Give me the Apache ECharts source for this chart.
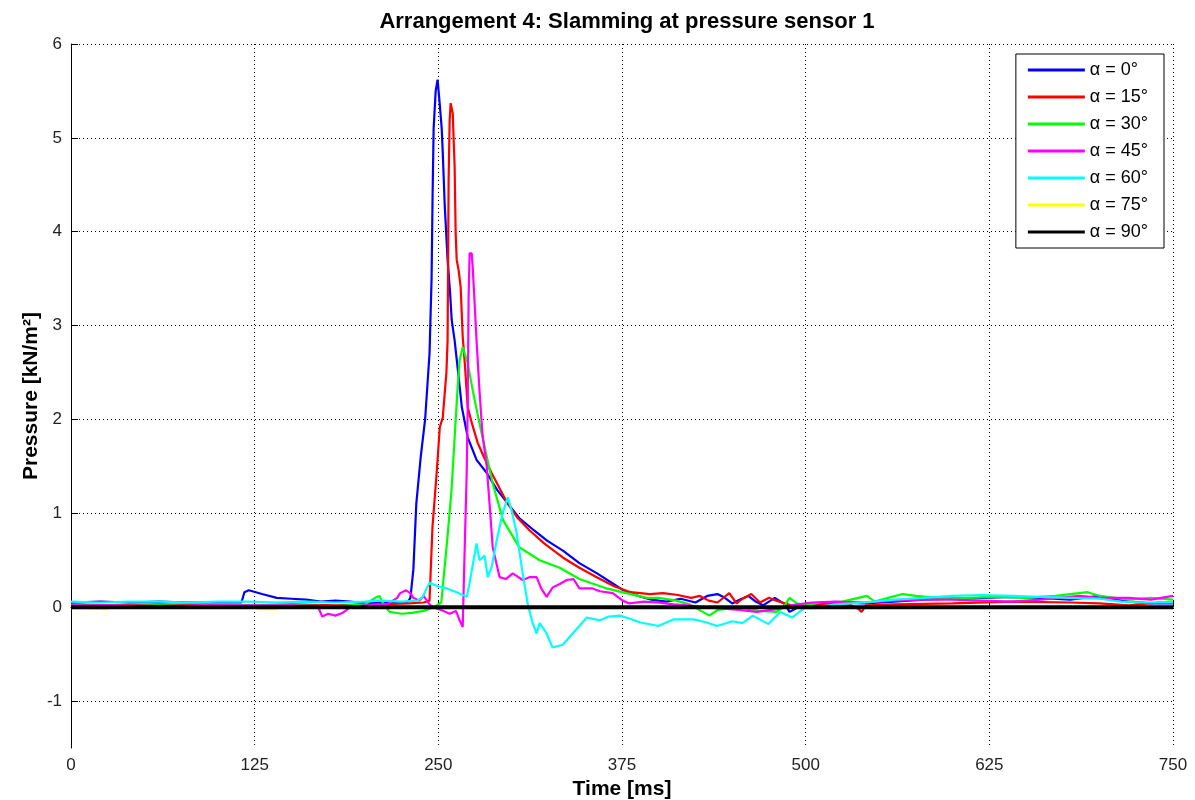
<!DOCTYPE html>
<html>
<head>
<meta charset="utf-8">
<script src="https://cdn.jsdelivr.net/npm/echarts@6/dist/echarts.min.js"></script>
<style>
html, body { margin: 0; padding: 0; background: #fff; }
#cn { width: 1195px; height: 800px; }
</style>
</head>
<body>
<div id="cn"></div>
<script>
'use strict';

// [time ms, pressure kN/m2]
const ALPHA_0 = [[0,0.05],[20,0.06],[40,0.05],[60,0.06],[80,0.05],[100,0.05],[116,0.05],[118,0.16],[121,0.18],[130,0.14],[140,0.1],[150,0.09],[160,0.08],[170,0.06],[180,0.07],[190,0.06],[200,0.04],[210,0.05],[220,0.05],[229,0.05],[231,0.1],[233,0.4],[235,1.1],[238,1.6],[241,2.0],[244,2.7],[245.4,3.5],[246.1,4.4],[246.8,5.1],[248.2,5.5],[249.5,5.62],[251,5.35],[252.3,5.1],[253,4.85],[254.3,4.3],[256.3,3.7],[258,3.35],[259.1,3.06],[261.1,2.84],[263.5,2.5],[266,2.13],[270,1.81],[276,1.57],[283,1.43],[290,1.25],[294,1.17],[305,0.95],[315,0.82],[324,0.71],[335,0.6],[346,0.47],[358,0.36],[369,0.25],[376,0.18],[386,0.12],[395,0.08],[405,0.06],[415,0.09],[425,0.05],[433,0.12],[440,0.14],[445,0.1],[450,0.04],[455,0.08],[461,0.12],[466,0.06],[471,0.02],[479,0.1],[486,0.03],[489,-0.05],[495,0.0],[505,0.04],[520,0.05],[540,0.04],[560,0.06],[580,0.08],[600,0.09],[620,0.1],[640,0.11],[660,0.1],[680,0.08],[700,0.12],[705,0.1],[720,0.06],[735,0.04],[750,0.04]];
const ALPHA_15 = [[0,0.03],[30,0.02],[60,0.03],[90,0.02],[120,0.02],[150,0.03],[180,0.02],[210,0.03],[230,0.04],[240,0.05],[244,0.07],[246,0.85],[249,1.46],[251,1.92],[253,2.02],[255.5,2.5],[256.3,2.84],[257,4.55],[257.7,5.19],[258.4,5.37],[259.8,5.26],[261.1,4.69],[261.8,3.98],[262.5,3.7],[263.8,3.59],[265.2,3.41],[266.6,2.88],[268,2.6],[270,2.13],[273,1.95],[276.8,1.75],[281,1.6],[286.3,1.43],[296.5,1.12],[304,0.95],[312,0.82],[322,0.68],[334.7,0.53],[346,0.42],[357.8,0.32],[370,0.22],[381,0.16],[394,0.14],[403,0.15],[413,0.13],[422,0.1],[428,0.12],[434,0.07],[440,0.05],[448,0.15],[453,0.04],[457,0.09],[463,0.14],[469,0.05],[475,0.1],[480,0.07],[490,0.02],[500,0.03],[515,0.02],[530,0.03],[536,-0.02],[538,-0.05],[541,0.02],[560,0.03],[600,0.04],[640,0.06],[680,0.05],[700,0.04],[720,0.02],[740,0.05],[750,0.05]];
const ALPHA_30 = [[0,0.02],[30,0.01],[60,0.02],[90,0.01],[120,0.02],[150,0.02],[180,0.01],[200,0.03],[207,0.1],[210,0.12],[213,0.02],[217,-0.05],[225,-0.07],[232,-0.06],[240,-0.04],[247,0.0],[252,0.05],[253,0.07],[256,0.71],[259,1.25],[261,1.78],[263,2.31],[264.5,2.63],[266.6,2.77],[270,2.6],[273.4,2.31],[278,1.96],[283,1.6],[287,1.32],[294,0.93],[305,0.64],[319,0.5],[332.6,0.42],[346,0.3],[364.6,0.2],[375,0.16],[392,0.1],[400,0.1],[412,0.07],[421,0.03],[430,-0.05],[434.5,-0.09],[440,-0.03],[450,-0.01],[458,-0.01],[468,-0.04],[480,-0.05],[485,0.0],[489,0.1],[494,0.04],[500,0.02],[510,0.05],[525,0.06],[541.7,0.12],[547,0.06],[556,0.1],[566,0.14],[575,0.12],[590,0.1],[610,0.1],[630,0.11],[650,0.1],[670,0.12],[692,0.16],[700,0.12],[720,0.08],[735,0.1],[750,0.08]];
const ALPHA_45 = [[0,0.02],[30,0.02],[60,0.01],[90,0.02],[120,0.02],[150,0.02],[168,0.01],[171,-0.1],[175,-0.07],[180,-0.09],[185,-0.06],[190,0.0],[200,0.02],[215,0.03],[222,0.1],[224,0.15],[228,0.18],[231,0.15],[233,0.1],[237,0.07],[240,0.12],[243,0.05],[246,0.0],[252,-0.03],[257.7,-0.07],[262,-0.04],[264.5,-0.14],[266.6,-0.21],[267.5,0.36],[269.3,1.43],[270,2.13],[270.6,3.3],[271.3,3.77],[272.7,3.77],[273.4,3.62],[274.7,3.24],[276,2.84],[278,2.31],[280,1.85],[283,1.49],[285,1.07],[287,0.64],[291.7,0.32],[296,0.3],[300.6,0.36],[307.4,0.29],[312,0.32],[316.9,0.32],[320,0.2],[323.7,0.11],[327.8,0.21],[333,0.25],[337.4,0.29],[342,0.3],[346,0.2],[355,0.2],[360,0.17],[368.7,0.15],[375.5,0.07],[380,0.04],[390,0.06],[399.6,0.05],[410,0.03],[420,0.02],[430,0.0],[440,-0.01],[455,-0.03],[466.6,-0.05],[480,-0.02],[490,0.02],[504,0.05],[520,0.06],[540,0.05],[560,0.07],[580,0.08],[600,0.08],[620,0.07],[640,0.06],[660,0.08],[686.5,0.12],[700,0.1],[720,0.1],[735,0.08],[750,0.12]];
const ALPHA_60 = [[0,0.06],[20,0.05],[40,0.06],[60,0.06],[80,0.05],[100,0.06],[120,0.06],[140,0.05],[160,0.06],[180,0.05],[200,0.06],[210,0.07],[225,0.06],[236,0.07],[239.3,0.11],[244,0.26],[250,0.22],[255.7,0.2],[262.5,0.16],[269.3,0.11],[271.3,0.26],[276,0.68],[278,0.5],[281.5,0.55],[283.6,0.32],[286.3,0.43],[289.7,0.71],[293.8,1.0],[297.2,1.17],[299.9,1.03],[303.3,0.79],[307.4,0.36],[310.8,0.04],[314.2,-0.17],[316.9,-0.28],[319,-0.17],[323.7,-0.28],[327.8,-0.43],[334.7,-0.4],[341.5,-0.28],[346,-0.2],[351,-0.11],[360,-0.14],[366,-0.1],[373.5,-0.09],[380,-0.12],[387,-0.16],[399.6,-0.2],[410,-0.13],[423.8,-0.13],[432,-0.16],[439.8,-0.2],[450,-0.15],[457,-0.17],[464,-0.09],[474.7,-0.18],[482.7,-0.05],[490.8,-0.11],[499,-0.01],[507,-0.01],[520,0.03],[540,0.05],[560,0.08],[580,0.1],[600,0.12],[620,0.13],[640,0.12],[660,0.11],[680,0.1],[700,0.09],[715,0.06],[730,0.05],[750,0.05]];
const ALPHA_75 = [[0,-0.01],[25,-0.02],[28,0],[60,0],[125,0],[127,-0.02],[140,-0.02],[142,0],[250,0],[257,-0.01],[262,0],[750,0]];
const ALPHA_90 = [[0,0],[750,0]];

const SERIES_NAMES = ['α = 0°', 'α = 15°', 'α = 30°', 'α = 45°', 'α = 60°', 'α = 75°', 'α = 90°'];
const SERIES_DATA = [ALPHA_0, ALPHA_15, ALPHA_30, ALPHA_45, ALPHA_60, ALPHA_75, ALPHA_90];
const SERIES_COLORS = ['#0000ff', '#ff0000', '#00ff00', '#ff00ff', '#00ffff', '#ffff00', '#000000'];
const Y_TICKS = [-1, 0, 1, 2, 3, 4, 5, 6];

const FONT = 'Liberation Sans, Arial, sans-serif';
const dotted = { color: '#000', width: 1, type: [1, 3] };

const chart = echarts.init(document.getElementById('cn'), null, { renderer: 'canvas' });

const option = {
	animation: false,
	backgroundColor: '#fff',
	title: {
		text: 'Arrangement 4: Slamming at pressure sensor 1',
		left: 622,
		textAlign: 'center',
		top: 6,
		textStyle: { fontFamily: FONT, fontSize: 22, fontWeight: 'bold', color: '#000' }
	},
	grid: { left: 71, right: 22, top: 44, bottom: 52, outerBoundsMode: 'none' },
	legend: {
		orient: 'vertical',
		right: 31,
		top: 54,
		icon: 'rect',
		itemWidth: 57,
		itemHeight: 3,
		itemGap: 7,
		padding: [6, 16, 6, 12],
		borderColor: '#000',
		borderWidth: 1,
		backgroundColor: '#fff',
		textStyle: { fontFamily: FONT, fontSize: 18, color: '#000', lineHeight: 20 },
		data: SERIES_NAMES
	},
	xAxis: {
		type: 'value',
		min: 0,
		max: 750,
		interval: 125,
		name: 'Time [ms]',
		nameLocation: 'middle',
		nameGap: 31,
		nameMoveOverlap: false,
		nameTextStyle: { fontFamily: FONT, fontSize: 21, fontWeight: 'bold', color: '#000' },
		axisLine: { lineStyle: { color: '#000', width: 1 } },
		axisTick: { inside: true, length: 7, lineStyle: { color: '#000' } },
		axisLabel: { fontFamily: FONT, fontSize: 17, color: '#222', margin: 9 },
		splitLine: { show: true, lineStyle: dotted }
	},
	yAxis: {
		type: 'value',
		min: -1.5,
		max: 6,
		name: 'Pressure [kN/m²]',
		nameLocation: 'middle',
		nameGap: 29,
		nameMoveOverlap: false,
		nameTextStyle: { fontFamily: FONT, fontSize: 21, fontWeight: 'bold', color: '#000' },
		axisLine: { show: true, lineStyle: { color: '#000', width: 1 } },
		axisTick: { show: true, inside: true, length: 7, lineStyle: { color: '#000' }, customValues: Y_TICKS },
		axisLabel: { fontFamily: FONT, fontSize: 17, color: '#222', margin: 9, customValues: Y_TICKS },
		splitLine: { show: true, lineStyle: dotted }
	},
	series: SERIES_NAMES.map((name, i) => ({
		name: name,
		type: 'line',
		data: SERIES_DATA[i],
		showSymbol: false,
		symbol: 'none',
		color: SERIES_COLORS[i],
		lineStyle: { color: SERIES_COLORS[i], width: i === 6 ? 4 : 2.2 }
	}))
};

chart.setOption(option);
</script>
</body>
</html>
